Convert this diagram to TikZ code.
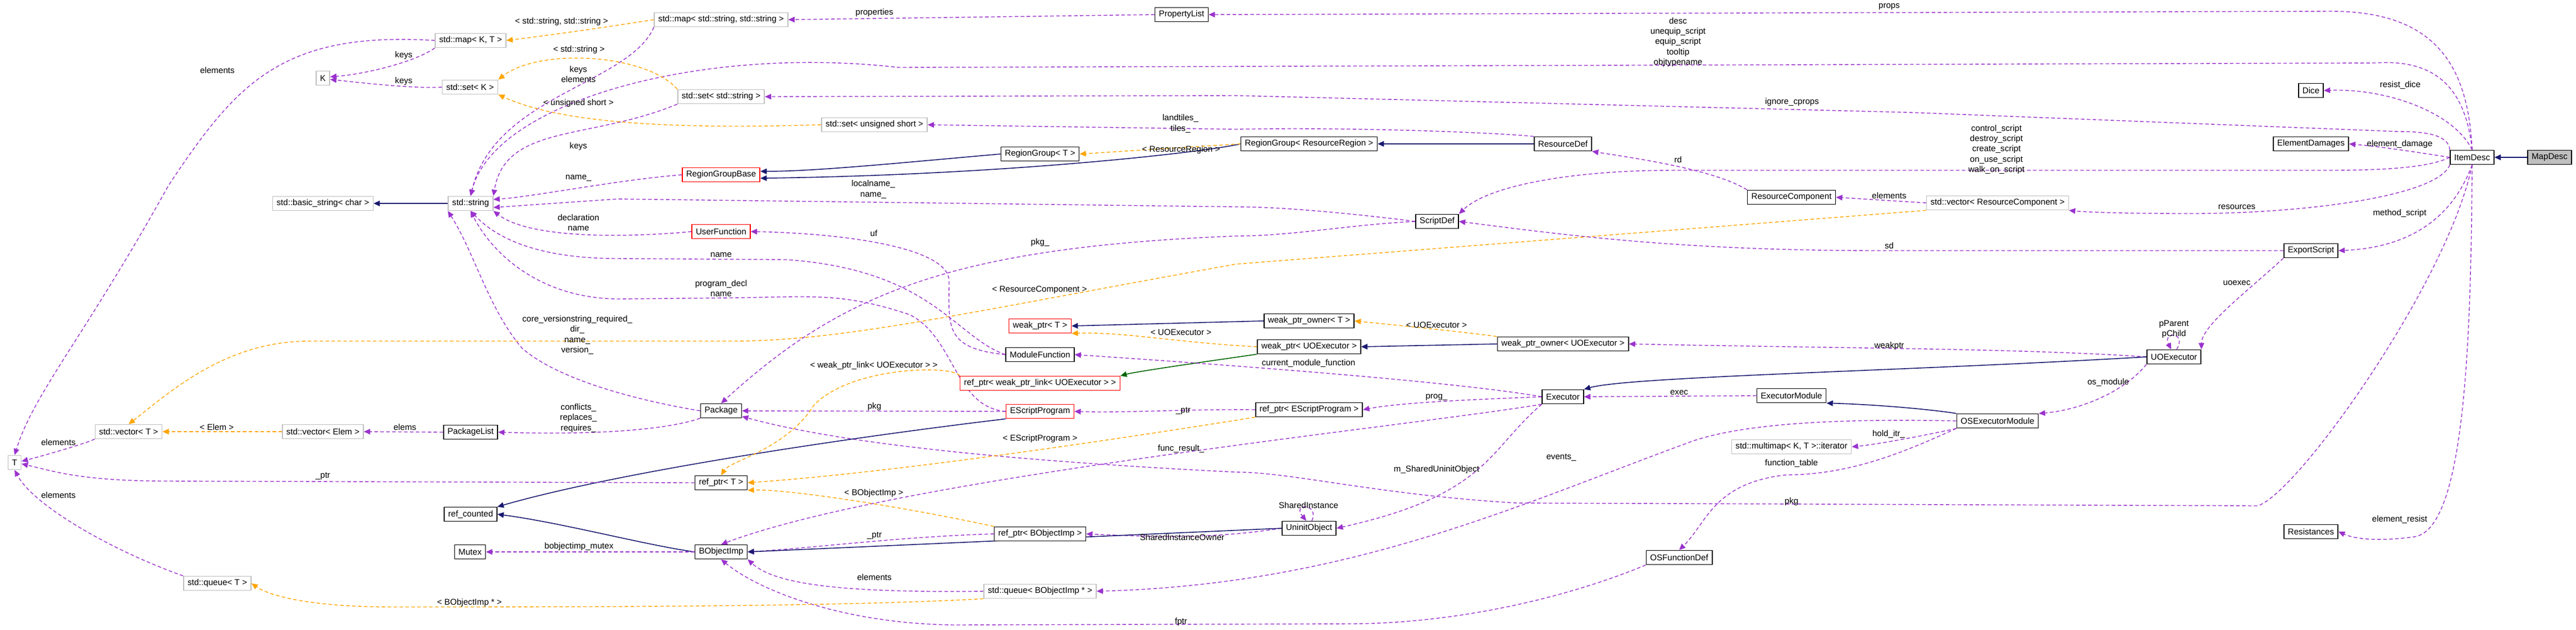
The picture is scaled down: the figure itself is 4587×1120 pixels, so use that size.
\documentclass[tikz,border=0pt]{standalone}
\usepackage{fontspec}
\setmainfont{Liberation Sans}
\usetikzlibrary{arrows.meta,backgrounds}
\definecolor{mem}{HTML}{9A32CD}
\definecolor{tplc}{HTML}{FFA500}
\definecolor{inhc}{HTML}{191970}
\definecolor{protc}{HTML}{006400}
\definecolor{grayb}{HTML}{BFBFBF}
\begin{document}
\begin{tikzpicture}[x=0.01cm,y=-0.01cm,
  font=\fontsize{4.3}{5.2}\selectfont,
  box/.style={draw=black,line width=0.45pt,fill=white,minimum height=0.25cm,inner xsep=0.07cm,inner ysep=0pt},
  ubox/.style={box,draw=grayb},
  rbox/.style={box,draw=red},
  lab/.style={align=center,inner sep=0.5pt},
  tip/.style={-{Triangle[length=3.2pt,width=2.8pt]}},
  m/.style={tip,draw=mem,dash pattern=on 1.8pt off 1.2pt,line width=0.4pt},
  t/.style={tip,draw=tplc,dash pattern=on 1.8pt off 1.2pt,line width=0.4pt},
  i/.style={tip,draw=inhc,line width=0.45pt},
  p/.style={tip,draw=protc,line width=0.45pt}]
\useasboundingbox (0,0) rectangle (4587,1120);
% nodes
\node[box,fill=grayb] (MapDesc) at (4540,280) {MapDesc};
\node[box] (ItemDesc) at (4402,280) {ItemDesc};
\node[box] (Dice) at (4115,161) {Dice};
\node[box] (ElementDamages) at (4115,256) {ElementDamages};
\node[box] (ExportScript) at (4115,446) {ExportScript};
\node[box] (Resistances) at (4115,946) {Resistances};
\node[box] (UOExecutor) at (3871,635) {UOExecutor};
\node[ubox] (vecRC) at (3557,361) {std::vector< ResourceComponent >};
\node[box] (OSExec) at (3557,749) {OSExecutorModule};
\node[box] (PropertyList) at (2104,26) {PropertyList};
\node[box] (ResourceComponent) at (3190,351) {ResourceComponent};
\node[box] (ExecutorModule) at (3190,704) {ExecutorModule};
\node[ubox] (multimapIt) at (3190,795) {std::multimap< K, T >::iterator};
\node[box] (OSFunctionDef) at (2990,992) {OSFunctionDef};
\node[box] (ResourceDef) at (2783,256) {ResourceDef};
\node[box] (wpoUO) at (2783,612) {weak\_ptr\_owner< UOExecutor >};
\node[box] (Executor) at (2783,706) {Executor};
\node[box] (ScriptDef) at (2559,394) {ScriptDef};
\node[box] (RGRR) at (2331,256) {RegionGroup< ResourceRegion >};
\node[box] (wpoT) at (2331,571) {weak\_ptr\_owner< T >};
\node[box] (wpUO) at (2331,617) {weak\_ptr< UOExecutor >};
\node[box] (rpESP) at (2331,729) {ref\_ptr< EScriptProgram >};
\node[box] (UninitObject) at (2331,940) {UninitObject};
\node[box] (RGT) at (1852,274) {RegionGroup< T >};
\node[rbox] (wpT) at (1852,580) {weak\_ptr< T >};
\node[box] (ModuleFunction) at (1852,631) {ModuleFunction};
\node[rbox] (rpWPL) at (1852,682) {ref\_ptr< weak\_ptr\_link< UOExecutor > >};
\node[rbox] (ESP) at (1852,732) {EScriptProgram};
\node[box] (rpBOI) at (1852,950) {ref\_ptr< BObjectImp >};
\node[ubox] (queueBOI) at (1852,1052) {std::queue< BObjectImp * >};
\node[ubox] (mapSS) at (1284,35) {std::map< std::string, std::string >};
\node[ubox] (setS) at (1284,172) {std::set< std::string >};
\node[ubox] (setUS) at (1557,222) {std::set< unsigned short >};
\node[rbox] (RGB) at (1284,311) {RegionGroupBase};
\node[rbox] (UserFunction) at (1284,412) {UserFunction};
\node[box] (Package) at (1284,731) {Package};
\node[box] (refptrT) at (1284,859) {ref\_ptr< T >};
\node[box] (BObjectImp) at (1284,982) {BObjectImp};
\node[ubox] (mapKT) at (838,72) {std::map< K, T >};
\node[ubox] (setK) at (837,155) {std::set< K >};
\node[ubox] (string) at (838,362) {std::string};
\node[box] (PackageList) at (838,769) {PackageList};
\node[box] (refcounted) at (838,915) {ref\_counted};
\node[box] (Mutex) at (837,982) {Mutex};
\node[ubox] (K) at (575,139) {K};
\node[ubox] (basicstring) at (575,362) {std::basic\_string< char >};
\node[ubox] (vecElem) at (575,768) {std::vector< Elem >};
\node[ubox] (vecT) at (229,768) {std::vector< T >};
\node[ubox] (queueT) at (387,1038) {std::queue< T >};
\node[ubox] (T) at (26,823) {T};
% edges
\begin{pgfonlayer}{background}
\draw[i] (MapDesc) -- (ItemDesc);
\draw[m] (ItemDesc.north) .. controls (4395,120) and (4340,20) .. (4150,20) -- (PropertyList.east);
\draw[m] (ItemDesc.north) .. controls (4390,150) and (4330,105) .. (4230,112) -- (1600,120) .. controls (1250,80) and (880,180) .. (string.north);
\draw[m] (ItemDesc.north) .. controls (4370,200) and (4250,157) .. (Dice.east);
\draw[m] (ItemDesc.north west) .. controls (4360,240) and (4320,234) .. (4270,234) -- (3400,200) -- (2200,170) -- (setS.east);
\draw[m] (ItemDesc.west) .. controls (4330,275) and (4250,262) .. (ElementDamages.east);
\draw[m] (ItemDesc.west) .. controls (4340,290) and (4300,303) .. (4150,303) -- (2980,303) .. controls (2800,303) and (2650,330) .. (ScriptDef.north east);
\draw[m] (ItemDesc.south west) .. controls (4340,350) and (4100,380) .. (3900,380) .. controls (3800,380) and (3720,378) .. (vecRC.south east);
\draw[m] (ItemDesc.south) .. controls (4370,380) and (4300,440) .. (ExportScript.east);
\draw[m] (ItemDesc.south) .. controls (4360,500) and (4090,880) .. (4020,900) -- (2700,895) .. controls (2450,880) and (2300,840) .. (2200,840) .. controls (1800,820) and (1500,790) .. (Package.-15);
\draw[m] (ItemDesc.south) .. controls (4400,600) and (4390,940) .. (4300,955) .. controls (4250,962) and (4200,962) .. (Resistances.east);
\draw[m] (PropertyList.west) -- (mapSS.east);
\draw[t] (mapSS.west) .. controls (1100,45) and (1000,60) .. (mapKT.east);
\draw[m] (mapSS.south west) .. controls (1120,150) and (880,170) .. (string.north);
\draw[t] (setS.north west) .. controls (1150,95) and (960,85) .. (setK.north east);
\draw[m] (setS.south west) .. controls (1050,250) and (900,220) .. (string.north east);
\draw[t] (setUS.west) .. controls (1200,230) and (1000,220) .. (setK.south east);
\draw[m] (mapKT.south west) .. controls (740,110) and (650,132) .. (K.10);
\draw[m] (mapKT.west) .. controls (500,55) and (420,150) .. (300,330) .. controls (150,600) and (60,700) .. (T.north);
\draw[m] (setK.west) .. controls (740,158) and (650,148) .. (K.-10);
\draw[i] (string.west) -- (basicstring.east);
\draw[m] (RGB.west) .. controls (1100,320) and (950,350) .. (string.10);
\draw[i] (RGT.west) .. controls (1600,290) and (1450,305) .. (RGB.5);
\draw[i] (RGRR.west) .. controls (2150,270) and (1800,311) .. (RGB.-5);
\draw[t] (RGRR.west) -- (RGT.east);
\draw[i] (ResourceDef.west) -- (RGRR.east);
\draw[m] (ResourceDef.north west) .. controls (2650,235) and (2400,226) .. (2200,230) -- (setUS.east);
\draw[m] (ResourceComponent.north west) .. controls (3050,300) and (2900,280) .. (ResourceDef.south east);
\draw[m] (vecRC.west) -- (ResourceComponent.east);
\draw[t] (vecRC.south west) -- (2200,470) .. controls (1700,560) and (1500,607) .. (1300,607) -- (550,607) .. controls (400,607) and (300,700) .. (vecT.north);
\draw[m] (ScriptDef.west) .. controls (2450,385) and (2300,368) .. (2200,368) -- (1100,354) -- (string.-10);
\draw[m] (ScriptDef.west) .. controls (2400,400) and (2300,420) .. (2200,420) .. controls (1700,440) and (1500,520) .. (Package.north);
\draw[m] (ExportScript.west) -- (3350,446) .. controls (3000,446) and (2800,420) .. (ScriptDef.east);
\draw[m] (ExportScript.south west) .. controls (4000,520) and (3920,580) .. (UOExecutor.north east);
\draw[m] (UserFunction.west) .. controls (1150,420) and (950,430) .. (string.south east);
\draw[m] (ModuleFunction.west) .. controls (1680,620) and (1690,580) .. (1690,500) .. controls (1690,440) and (1500,415) .. (UserFunction.east);
\draw[m] (ModuleFunction.west) .. controls (1700,600) and (1660,480) .. (1400,462) -- (1100,460) .. controls (950,460) and (880,420) .. (string.south);
\draw[m] (ESP.west) .. controls (1700,725) and (1700,600) .. (1620,560) .. controls (1500,520) and (1450,528) .. (1300,530) -- (1100,532) .. controls (950,530) and (870,440) .. (string.south);
\draw[m] (Package.west) .. controls (1150,715) and (1000,680) .. (930,620) .. controls (870,550) and (845,450) .. (string.south west);
\draw[m] (Package.south west) .. controls (1200,760) and (1100,775) .. (PackageList.east);
\draw[m] (PackageList.west) -- (vecElem.east);
\draw[t] (vecElem.west) -- (vecT.east);
\draw[m] (vecT.south west) .. controls (150,790) and (80,810) .. (T.10);
\draw[m] (ESP.west) -- (Package.east);
\draw[i] (ESP.south west) .. controls (1500,780) and (1100,840) .. (refcounted.north east);
\draw[t] (rpWPL.north west) .. controls (1700,650) and (1520,650) .. (1450,720) .. controls (1400,800) and (1300,820) .. (refptrT.north);
\draw[i] (wpoT.west) -- (wpT.east);
\draw[t] (wpUO.west) .. controls (2100,610) and (2000,590) .. (wpT.south east);
\draw[p] (wpUO.south west) .. controls (2100,650) and (2020,662) .. (rpWPL.north east);
\draw[i] (wpoUO.west) -- (wpUO.east);
\draw[t] (wpoUO.north west) .. controls (2600,590) and (2500,580) .. (wpoT.east);
\draw[m] (UOExecutor.west) .. controls (3600,620) and (3300,620) .. (wpoUO.east);
\draw[i] (UOExecutor.west) .. controls (3400,660) and (2900,670) .. (Executor.north east);
\draw[m] (UOExecutor.70) .. controls (3895,590) and (3850,590) .. (UOExecutor.110);
\draw[m] (UOExecutor.south west) .. controls (3780,700) and (3700,730) .. (OSExec.north east);
\draw[m] (Executor.west) .. controls (2600,680) and (2200,650) .. (ModuleFunction.east);
\draw[m] (Executor.west) .. controls (2650,710) and (2500,715) .. (rpESP.east);
\draw[m] (Executor.south west) .. controls (2500,760) and (1600,850) .. (BObjectImp.north);
\draw[m] (Executor.south west) .. controls (2650,800) and (2650,880) .. (UninitObject.east);
\draw[m] (ExecutorModule.west) -- (Executor.east);
\draw[i] (OSExec.north west) .. controls (3450,730) and (3350,720) .. (ExecutorModule.south east);
\draw[m] (OSExec.west) .. controls (3300,745) and (3100,750) .. (3000,790) .. controls (2700,900) and (2400,1040) .. (queueBOI.east);
\draw[m] (OSExec.south west) .. controls (3450,770) and (3350,790) .. (multimapIt.east);
\draw[m] (OSExec.south west) .. controls (3400,800) and (3300,845) .. (3180,845) .. controls (3050,860) and (3040,930) .. (OSFunctionDef.north);
\draw[m] (OSFunctionDef.south west) .. controls (2800,1060) and (2600,1110) .. (2400,1110) -- (1700,1112) .. controls (1500,1110) and (1350,1050) .. (BObjectImp.south);
\draw[t] (rpESP.south west) .. controls (2000,780) and (1600,840) .. (refptrT.east);
\draw[m] (rpESP.west) .. controls (2100,728) and (2000,735) .. (ESP.east);
\draw[m] (refptrT.west) -- (300,856) .. controls (150,856) and (100,840) .. (T.-10);
\draw[m] (rpBOI.west) .. controls (1600,955) and (1450,975) .. (BObjectImp.east);
\draw[t] (rpBOI.north west) .. controls (1600,900) and (1400,870) .. (refptrT.south east);
\draw[m] (UninitObject.west) .. controls (2150,960) and (2050,955) .. (rpBOI.east);
\draw[m] (UninitObject.70) .. controls (2350,895) and (2300,895) .. (UninitObject.110);
\draw[i] (UninitObject.west) -- (BObjectImp.east);
\draw[i] (BObjectImp.west) .. controls (1150,970) and (1000,930) .. (refcounted.east);
\draw[m] (BObjectImp.west) -- (Mutex.east);
\draw[m] (queueBOI.west) .. controls (1500,1055) and (1380,1040) .. (BObjectImp.south east);
\draw[t] (queueBOI.south west) .. controls (1500,1080) and (1000,1080) .. (700,1080) .. controls (550,1080) and (480,1060) .. (queueT.east);
\draw[m] (queueT.north west) .. controls (200,980) and (60,900) .. (T.south);
\end{pgfonlayer}
% labels
\node[lab] (l1) at (3364,12) {props};
\node[lab] (l2) at (2988,75) {desc\\unequip\_script\\equip\_script\\tooltip\\objtypename};
\node[lab] (l3) at (4274,152) {resist\_dice};
\node[lab] (l4) at (3191,182) {ignore\_cprops};
\node[lab] (l5) at (4273,257) {element\_damage};
\node[lab] (l6) at (3555,266) {control\_script\\destroy\_script\\create\_script\\on\_use\_script\\walk\_on\_script};
\node[lab] (l7) at (3983,368) {resources};
\node[lab] (l8) at (4273,380) {method\_script};
\node[lab] (l9) at (3190,893) {pkg};
\node[lab] (l10) at (4273,924) {element\_resist};
\node[lab] (l11) at (1557,23) {properties};
\node[lab] (l12) at (1000,39) {< std::string, std::string >};
\node[lab] (l13) at (1030,132) {keys\\elements};
\node[lab] (l14) at (1031,89) {< std::string >};
\node[lab] (l15) at (1030,261) {keys};
\node[lab] (l16) at (1030,184) {< unsigned short >};
\node[lab] (l17) at (719,99) {keys};
\node[lab] (l18) at (387,125) {elements};
\node[lab] (l19) at (719,145) {keys};
\node[lab] (l20) at (1030,317) {name\_};
\node[lab] (l21) at (2103,267) {< ResourceRegion >};
\node[lab] (l22) at (2102,220) {landtiles\_\\tiles\_};
\node[lab] (l23) at (2988,284) {rd};
\node[lab] (l24) at (3364,348) {elements};
\node[lab] (l25) at (1851,516) {< ResourceComponent >};
\node[lab] (l26) at (1555,337) {localname\_\\name\_};
\node[lab] (l27) at (1852,432) {pkg\_};
\node[lab] (l28) at (3364,437) {sd};
\node[lab] (l29) at (3983,503) {uoexec};
\node[lab] (l30) at (1030,396) {declaration\\name};
\node[lab] (l31) at (1556,415) {uf};
\node[lab] (l32) at (1284,453) {name};
\node[lab] (l33) at (1284,513) {program\_decl\\name};
\node[lab] (l34) at (1028,596) {core\_versionstring\_required\_\\dir\_\\name\_\\version\_};
\node[lab] (l35) at (1030,744) {conflicts\_\\replaces\_\\requires\_};
\node[lab] (l36) at (721,760) {elems};
\node[lab] (l37) at (386,760) {< Elem >};
\node[lab] (l38) at (104,787) {elements};
\node[lab] (l39) at (1557,724) {pkg};
\node[lab] (l40) at (1556,651) {< weak\_ptr\_link< UOExecutor > >};
\node[lab] (l41) at (2103,591) {< UOExecutor >};
\node[lab] (l42) at (2558,578) {< UOExecutor >};
\node[lab] (l43) at (3364,616) {weakptr};
\node[lab] (l44) at (3871,586) {pParent\\pChild};
\node[lab] (l45) at (3754,681) {os\_module};
\node[lab] (l46) at (2330,647) {current\_module\_function};
\node[lab] (l47) at (2558,707) {prog\_};
\node[lab] (l48) at (2103,799) {func\_result\_};
\node[lab] (l49) at (2558,836) {m\_SharedUninitObject};
\node[lab] (l50) at (2990,698) {exec};
\node[lab] (l51) at (2780,814) {events\_};
\node[lab] (l52) at (3363,773) {hold\_itr\_};
\node[lab] (l53) at (3190,824) {function\_table};
\node[lab] (l54) at (2103,1107) {fptr};
\node[lab] (l55) at (1852,781) {< EScriptProgram >};
\node[lab] (l56) at (2107,731) {\_ptr};
\node[lab] (l57) at (575,847) {\_ptr};
\node[lab] (l58) at (1557,953) {\_ptr};
\node[lab] (l59) at (1556,878) {< BObjectImp >};
\node[lab] (l60) at (2105,956) {SharedInstanceOwner};
\node[lab] (l61) at (2330,899) {SharedInstance};
\node[lab] (l62) at (1031,973) {bobjectimp\_mutex};
\node[lab] (l63) at (1557,1027) {elements};
\node[lab] (l64) at (836,1073) {< BObjectImp * >};
\node[lab] (l65) at (104,881) {elements};
\end{tikzpicture}
\end{document}
